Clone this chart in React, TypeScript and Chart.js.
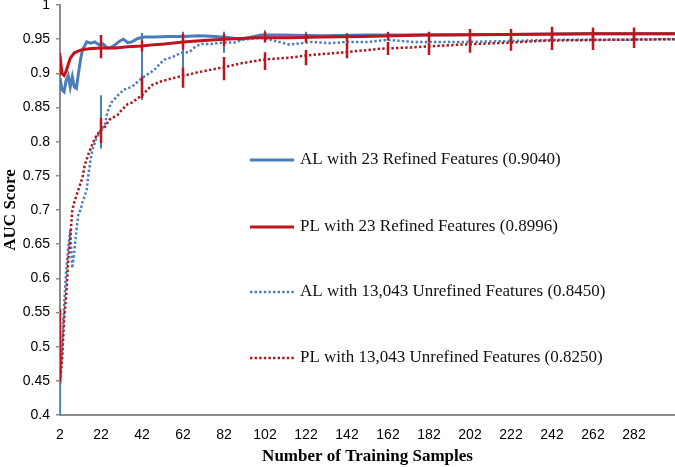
import React, { useEffect, useRef } from 'react';
import { Chart, registerables } from 'chart.js';
Chart.register(...registerables);

// ---- data ----
const xTickValues = [2, 22, 42, 62, 82, 102, 122, 142, 162, 182, 202, 222, 242, 262, 282];

const seriesLabels = [
  'AL with 23 Refined Features (0.9040)',
  'PL with 23 Refined Features (0.8996)',
  'AL with 13,043 Unrefined Features (0.8450)',
  'PL with 13,043 Unrefined Features (0.8250)',
];

const alRefinedX = [2, 3, 4, 5, 6, 7, 8, 9, 10, 11, 12, 13, 14, 15, 17, 19, 21, 23, 25, 27, 29, 31, 33, 35, 37, 40, 43, 48, 55, 62, 70, 78, 85, 90, 95, 100, 110, 130, 150, 180, 220, 260, 302];
const alRefinedY = [0.893, 0.876, 0.873, 0.89, 0.897, 0.88, 0.895, 0.88, 0.878, 0.9, 0.92, 0.935, 0.94, 0.946, 0.944, 0.946, 0.942, 0.943, 0.937, 0.938, 0.942, 0.947, 0.95, 0.945, 0.946, 0.951, 0.953, 0.953, 0.954, 0.954, 0.955, 0.954, 0.952, 0.95, 0.953, 0.956, 0.956, 0.955, 0.956, 0.956, 0.957, 0.958, 0.958];

const plRefinedX = [2, 3, 4, 5, 6, 7, 9, 12, 16, 22, 29, 35, 42, 48, 53, 62, 72, 82, 98, 114, 130, 150, 180, 220, 260, 302];
const plRefinedY = [0.925, 0.9, 0.897, 0.903, 0.913, 0.922, 0.93, 0.934, 0.936, 0.937, 0.937, 0.939, 0.94, 0.942, 0.943, 0.946, 0.948, 0.95, 0.952, 0.952, 0.953, 0.954, 0.956, 0.957, 0.958, 0.958];

const alUnrefX = [2, 3, 4, 5, 6, 7, 8, 9, 10, 11, 12, 13, 14, 15, 16, 17, 18, 19, 20, 22, 24, 25, 27, 30, 33, 37, 40, 43, 48, 51, 53, 57, 61, 65, 68, 71, 76, 82, 87, 91, 96, 100, 105, 110, 114, 119, 125, 134, 142, 152, 162, 174, 185, 200, 218, 230, 245, 270, 302];
const alUnrefY = [0.445, 0.5, 0.56, 0.61, 0.645, 0.67, 0.615, 0.64, 0.67, 0.695, 0.7, 0.712, 0.72, 0.73, 0.755, 0.775, 0.79, 0.798, 0.807, 0.817, 0.826, 0.842, 0.857, 0.867, 0.876, 0.88, 0.888, 0.895, 0.905, 0.915, 0.92, 0.924, 0.93, 0.931, 0.939, 0.943, 0.943, 0.945, 0.945, 0.949, 0.951, 0.952, 0.949, 0.945, 0.942, 0.944, 0.946, 0.944, 0.946, 0.946, 0.949, 0.946, 0.946, 0.946, 0.947, 0.948, 0.949, 0.949, 0.95];

const plUnrefX = [2, 3, 4, 5, 6, 7, 8, 9, 11, 13, 14, 16, 18, 20, 22, 24, 26, 30, 32, 35, 37, 42, 47, 52, 60, 70, 82, 91, 101, 114, 125, 142, 158, 174, 197, 222, 240, 270, 302];
const plUnrefY = [0.448, 0.48, 0.54, 0.575, 0.625, 0.66, 0.7, 0.712, 0.73, 0.748, 0.765, 0.783, 0.798, 0.81, 0.817, 0.822, 0.832, 0.839, 0.846, 0.855, 0.857, 0.868, 0.883, 0.889, 0.895, 0.902, 0.909, 0.915, 0.92, 0.923, 0.927, 0.931, 0.936, 0.938, 0.942, 0.945, 0.948, 0.949, 0.95];

// error bars at xTickValues (null = not visible)
const alBarLow = [0.4, 0.79, 0.861, 0.909, 0.93, 0.949, 0.949, 0.95, 0.953, null, null, null, null, null, null];
const alBarHigh = [0.45, 0.868, 0.959, 0.961, 0.961, 0.963, 0.961, 0.959, 0.961, null, null, null, null, null, null];
const plRefinedBarLow = [0.897, 0.922, 0.932, 0.935, 0.94, 0.945, 0.945, 0.946, 0.948, 0.946, 0.947, 0.948, 0.95, 0.95, 0.951];
const plRefinedBarHigh = [0.93, 0.956, 0.948, 0.958, 0.958, 0.96, 0.958, 0.958, 0.96, 0.961, 0.965, 0.965, 0.968, 0.967, 0.967];
const plUnrefBarLow = [0.448, 0.798, 0.864, 0.879, 0.89, 0.905, 0.912, 0.922, 0.927, 0.927, 0.93, 0.933, 0.934, 0.934, 0.937];
const plUnrefBarHigh = [0.555, 0.835, 0.895, 0.909, 0.924, 0.931, 0.934, 0.945, 0.946, 0.945, 0.95, 0.952, 0.955, 0.955, 0.956];

// ---- styles ----
const BLUE = '#4A7EBB';
const RED = '#C0141C';
const DARK_RED = '#A8181E';
const AXIS_GRAY = '#8C8C8C';

export default function App() {
  const ref = useRef<HTMLCanvasElement>(null);

  useEffect(() => {
    if (!ref.current) return;
    const toPts = (xs: number[], ys: number[]) => xs.map((x, i) => ({ x, y: ys[i] }));
    const barPts = (lo: (number | null)[], hi: (number | null)[]) => {
      const out: any[] = [];
      xTickValues.forEach((x, i) => {
        if (lo[i] == null || hi[i] == null) return;
        out.push({ x, y: lo[i] }, { x, y: hi[i] }, { x, y: null });
      });
      return out;
    };

    const lineBase = { pointRadius: 0, tension: 0, fill: false, spanGaps: false };

    const legendPlugin = {
      id: 'inlineLegend',
      afterDraw(chart: any) {
        const { ctx, chartArea } = chart;
        const rows = [155, 222, 287, 353];
        ctx.save();
        seriesLabels.forEach((label, i) => {
          const ds = chart.data.datasets[i];
          const y = chartArea.top + rows[i];
          const x0 = chartArea.left + 190;
          ctx.beginPath();
          ctx.strokeStyle = ds.borderColor;
          ctx.lineWidth = ds.borderWidth;
          ctx.lineCap = 'butt';
          ctx.setLineDash(ds.borderDash || []);
          ctx.moveTo(x0, y);
          ctx.lineTo(x0 + 44, y);
          ctx.stroke();
          ctx.setLineDash([]);
          ctx.fillStyle = '#111';
          ctx.font = '17px "Liberation Serif"';
          ctx.textBaseline = 'middle';
          ctx.textAlign = 'left';
          ctx.fillText(label, x0 + 50, y);
        });
        ctx.restore();
      },
    };

    const chart = new Chart(ref.current, {
      type: 'line',
      data: {
        datasets: [
          { ...lineBase, label: seriesLabels[0], data: toPts(alRefinedX, alRefinedY), borderColor: BLUE, borderWidth: 3, order: 4 },
          { ...lineBase, label: seriesLabels[1], data: toPts(plRefinedX, plRefinedY), borderColor: RED, borderWidth: 3, order: 3 },
          { ...lineBase, label: seriesLabels[2], data: toPts(alUnrefX, alUnrefY), borderColor: BLUE, borderWidth: 2.5, borderDash: [2.4, 2.2], order: 6 },
          { ...lineBase, label: seriesLabels[3], data: toPts(plUnrefX, plUnrefY), borderColor: DARK_RED, borderWidth: 2.5, borderDash: [2.4, 2.2], order: 5 },
          { ...lineBase, label: 'alBars', data: barPts(alBarLow, alBarHigh), borderColor: BLUE, borderWidth: 2, order: 2 },
          { ...lineBase, label: 'plRefBars', data: barPts(plRefinedBarLow, plRefinedBarHigh), borderColor: RED, borderWidth: 2.5, order: 1 },
          { ...lineBase, label: 'plUnrefBars', data: barPts(plUnrefBarLow, plUnrefBarHigh), borderColor: RED, borderWidth: 2.5, order: 0 },
        ],
      },
      options: {
        responsive: false,
        animation: false,
        layout: { padding: { left: 0, right: 0, top: 0, bottom: 0 } },
        plugins: { legend: { display: false }, tooltip: { enabled: false } },
        scales: {
          x: {
            type: 'linear',
            min: 2,
            max: 302,
            afterBuildTicks: (scale: any) => {
              scale.ticks = xTickValues.map((v) => ({ value: v }));
            },
            afterFit: (scale: any) => {
              scale.height = 52;
              scale.paddingLeft = 0;
              scale.paddingRight = 0;
            },
            grid: { display: false, drawTicks: false },
            border: { display: true, color: AXIS_GRAY, width: 2 },
            ticks: {
              color: '#000',
              padding: 12,
              maxRotation: 0,
              autoSkip: false,
              font: { family: '"Liberation Sans"', size: 14 },
              callback: (v: any) => String(v),
            },
            title: {
              display: true,
              text: 'Number of Training Samples',
              color: '#000',
              padding: { top: 0, bottom: 0 },
              font: { family: '"Liberation Serif"', size: 17, weight: 'bold' },
            },
          },
          y: {
            min: 0.4,
            max: 1,
            afterFit: (scale: any) => {
              scale.width = 60;
              scale.paddingTop = 5;
              scale.paddingBottom = 0;
            },
            grid: { display: true, drawOnChartArea: false, drawTicks: true, tickLength: 4, color: AXIS_GRAY, lineWidth: 1.5 },
            border: { display: true, color: AXIS_GRAY, width: 2 },
            ticks: {
              stepSize: 0.05,
              color: '#000',
              padding: 6,
              font: { family: '"Liberation Sans"', size: 14 },
              callback: (v: any) => String(Math.round(Number(v) * 100) / 100),
            },
            title: {
              display: true,
              text: 'AUC Score',
              color: '#000',
              padding: { top: 0, bottom: 0 },
              font: { family: '"Liberation Serif"', size: 17, weight: 'bold' },
            },
          },
        },
      },
      plugins: [legendPlugin],
    } as any);

    return () => chart.destroy();
  }, []);

  return (
    <div style={{ position: 'absolute', left: 0, top: 0, width: 675, height: 467, background: '#fff' }}>
      <canvas ref={ref} width={675} height={467} style={{ display: 'block' }} />
    </div>
  );
}
